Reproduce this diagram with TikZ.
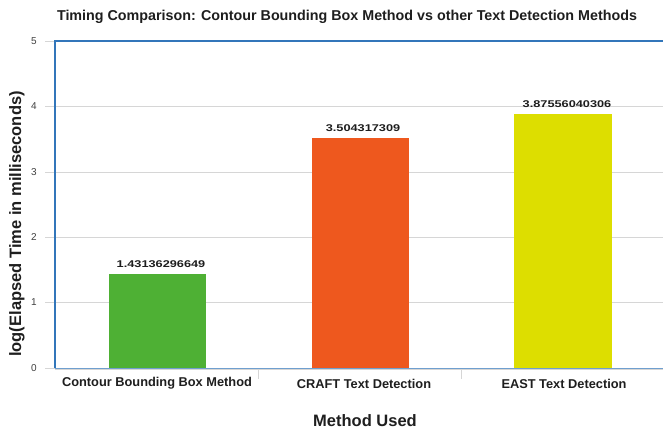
\documentclass[tikz,border=0pt]{standalone}
\usepackage{fontspec}
\setmainfont{Liberation Sans}
\definecolor{bargreen}{RGB}{78,176,52}
\definecolor{barorange}{RGB}{238,88,30}
\definecolor{baryellow}{RGB}{221,222,0}
\definecolor{frameblue}{RGB}{50,118,186}
\definecolor{gridgray}{RGB}{214,214,214}
\definecolor{txtdark}{RGB}{30,30,30}
\tikzset{
  bar/.style={draw=none},
  gridline/.style={draw=gridgray, line width=0.9pt},
  ticklab/.style={font=\fontsize{10}{10}\selectfont, text=black!75, anchor=center, inner sep=0pt},
  vallab/.style={font=\bfseries\fontsize{9.8}{9.8}\selectfont, text=txtdark, anchor=center, inner sep=0pt},
  catlab/.style={font=\bfseries\fontsize{12.8}{12.8}\selectfont, text=txtdark, anchor=center, inner sep=0pt},
  axlab/.style={font=\bfseries\fontsize{16.5}{16.5}\selectfont, text=txtdark, anchor=center, inner sep=0pt},
}
\begin{document}
\begin{tikzpicture}[x=1pt,y=-1pt]
\useasboundingbox (0,0) rectangle (663,433);
\fill[white] (0,0) rectangle (663,433);
% grid lines
\foreach \yy in {106,172,237,302} \draw[gridline] (45,\yy) -- (663,\yy);
\draw[gridline] (45,41) -- (55,41);
\draw[gridline] (45,368) -- (55,368);
\draw[gridline] (55,369) -- (663,369);
\foreach \xx in {258,461} \draw[gridline] (\xx,369) -- (\xx,379);
% bars
\fill[bargreen] (109,274) rectangle (206,368);
\fill[barorange] (312,138) rectangle (409,368);
\fill[baryellow] (514,114) rectangle (612,368);
% frame
\draw[frameblue, line width=1.8pt] (663,41) -- (55,41) -- (55,368);
\draw[frameblue!70, line width=1pt] (55,368) -- (663,368);
% tick labels
\node[ticklab] (t0) at (34,368) {0};
\node[ticklab] (t1) at (34,302) {1};
\node[ticklab] (t2) at (34,237) {2};
\node[ticklab] (t3) at (34,172) {3};
\node[ticklab] (t4) at (34,106) {4};
\node[ticklab] (t5) at (34,41) {5};
% value labels
\node[vallab] (v1) at (161,264) {\scalebox{1.3}[1]{1.43136296649}};
\node[vallab] (v2) at (363,128) {\scalebox{1.3}[1]{3.504317309}};
\node[vallab] (v3) at (567,104) {\scalebox{1.3}[1]{3.87556040306}};
% category labels
\node[catlab] (c1) at (157,383) {Contour Bounding Box Method};
\node[catlab] (c2) at (364,384) {CRAFT Text Detection};
\node[catlab] (c3) at (564,384) {EAST Text Detection};
% axis titles
\node[axlab] (xl) at (365,421) {Method Used};
\node[axlab, rotate=90] (yl) at (17,224) {log(Elapsed Time in milliseconds)};
\node[font=\bfseries\fontsize{14.3}{14.3}\selectfont, text=txtdark, inner sep=0pt] (title) at (347,17) {Timing Comparison: Contour Bounding Box Method vs other Text Detection Methods};
\end{tikzpicture}
\end{document}
